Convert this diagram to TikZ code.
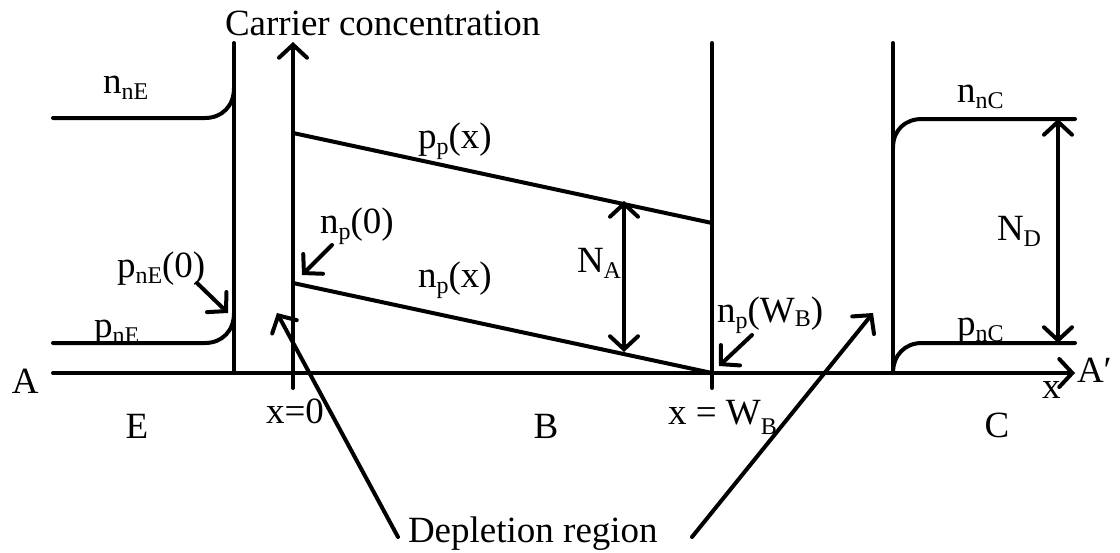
\documentclass[tikz,border=0pt]{standalone}
\usepackage{fontspec}
\setmainfont{Liberation Serif}
\usetikzlibrary{arrows.meta}
\newcommand\sbs[2][6pt]{\raisebox{-#1}{\fontsize{24}{24}\selectfont #2}}
\begin{document}
\begin{tikzpicture}[x=1pt,y=-1pt,
  lbl/.style={inner sep=0pt,outer sep=0pt,font=\fontsize{37}{40}\selectfont},
  ln/.style={line width=4pt,line cap=round,line join=round},
  arr/.style={ln,-{Straight Barb[length=13pt,width=28pt,line cap=round]}},
  darr/.style={ln,{Straight Barb[length=13pt,width=28pt,line cap=round]}-{Straight Barb[length=13pt,width=28pt,line cap=round]}}]
\useasboundingbox (0,0) rectangle (1120,552);
% coordinates
\coordinate (L1t) at (234,43); \coordinate (L1b) at (234,373);
\coordinate (Yb) at (293,388); \coordinate (Yt) at (293,42);
\coordinate (L2t) at (712,43); \coordinate (L2b) at (712,388);
\coordinate (L3t) at (893,43); \coordinate (L3b) at (893,373);
\coordinate (Ax0) at (53,373); \coordinate (Ax1) at (1075,373);
\coordinate (nE0) at (53,118); \coordinate (nE1) at (205,118); \coordinate (nE2) at (234,88);
\coordinate (pE0) at (53,343); \coordinate (pE1) at (205,343); \coordinate (pE2) at (234,313);
\coordinate (pp0) at (293,133); \coordinate (pp1) at (712,223);
\coordinate (np0) at (293,283); \coordinate (np1) at (712,373);
\coordinate (nC0) at (893,148); \coordinate (nC1) at (922,119); \coordinate (nC2) at (1075,119);
\coordinate (pC0) at (893,373); \coordinate (pC1) at (922,343); \coordinate (pC2) at (1075,343);
\coordinate (NDt) at (1058,119); \coordinate (NDb) at (1058,343);
\coordinate (NAt) at (624,201); \coordinate (NAb) at (624,352);
\coordinate (a1s) at (197,283); \coordinate (a1e) at (228,313);
\coordinate (a2s) at (332,245); \coordinate (a2e) at (302,275);
\coordinate (a3s) at (752,335); \coordinate (a3e) at (719,366);
\coordinate (d1s) at (398,537); \coordinate (d1e) at (277,313);
\coordinate (d2s) at (692,537); \coordinate (d2e) at (873,313);
% lines
\draw[ln] (L1t) -- (L1b);
\draw[arr] (Yb) -- (Yt);
\draw[ln] (L2t) -- (L2b);
\draw[ln] (L3t) -- (L3b);
\draw[arr] (Ax0) -- (Ax1);
\draw[ln] (nE0) -- (nE1) .. controls (222,118) and (234,106) .. (nE2);
\draw[ln] (pE0) -- (pE1) .. controls (222,343) and (234,331) .. (pE2);
\draw[ln] (pp0) -- (pp1);
\draw[ln] (np0) -- (np1);
\draw[ln] (nC0) .. controls (893,130) and (905,119) .. (nC1) -- (nC2);
\draw[ln] (pC0) .. controls (893,355) and (905,343) .. (pC1) -- (pC2);
\draw[darr] (NDt) -- (NDb);
\draw[darr] (NAt) -- (NAb);
\draw[arr] (a1s) -- (a1e);
\draw[arr] (a2s) -- (a2e);
\draw[arr] (a3s) -- (a3e);
\draw[arr] (d1s) -- (d1e);
\draw[arr] (d2s) -- (d2e);
% labels
\node[lbl,anchor=base west] (tcc) at (225,35) {Carrier concentration};
\node[lbl,anchor=base west] (tnnE) at (103,93) {n\sbs{nE}};
\node[lbl,anchor=base west] (tpnE0) at (117,277) {p\sbs{nE}(0)};
\node[lbl,anchor=base west] (tpnE) at (94,337) {p\sbs{nE}};
\node[lbl,anchor=base west] (tnp0) at (320,233) {n\sbs{p}(0)};
\node[lbl,anchor=base west] (tppx) at (418,148) {p\sbs{p}(x)};
\node[lbl,anchor=base west] (tnpx) at (418,287) {n\sbs{p}(x)};
\node[lbl,anchor=base west] (tNA) at (577,272) {N\sbs{A}};
\node[lbl,anchor=base west] (tnpW) at (717,322) {n\sbs{p}(W\sbs[4pt]{B})};
\node[lbl,anchor=base west] (tnnC) at (957,102) {n\sbs{nC}};
\node[lbl,anchor=base west] (tND) at (997,240) {N\sbs{D}};
\node[lbl,anchor=base west] (tpnC) at (957,335) {p\sbs{nC}};
\node[lbl,anchor=base west] (tA) at (12,393) {A};
\node[lbl,anchor=base west] (tAp) at (1077,382) {A′};
\node[lbl,anchor=base west] (tx) at (1042,398) {x};
\node[lbl,anchor=base] (tE) at (137,438) {E};
\node[lbl,anchor=base west] (tx0) at (266,423) {x=0};
\node[lbl,anchor=base] (tB) at (546,438) {B};
\node[lbl,anchor=base west] (txW) at (668,424) {x = W\sbs[10pt]{B}};
\node[lbl,anchor=base] (tC) at (997,437) {C};
\node[lbl,anchor=base west] (tdep) at (408,542) {Depletion region};
\end{tikzpicture}
\end{document}
